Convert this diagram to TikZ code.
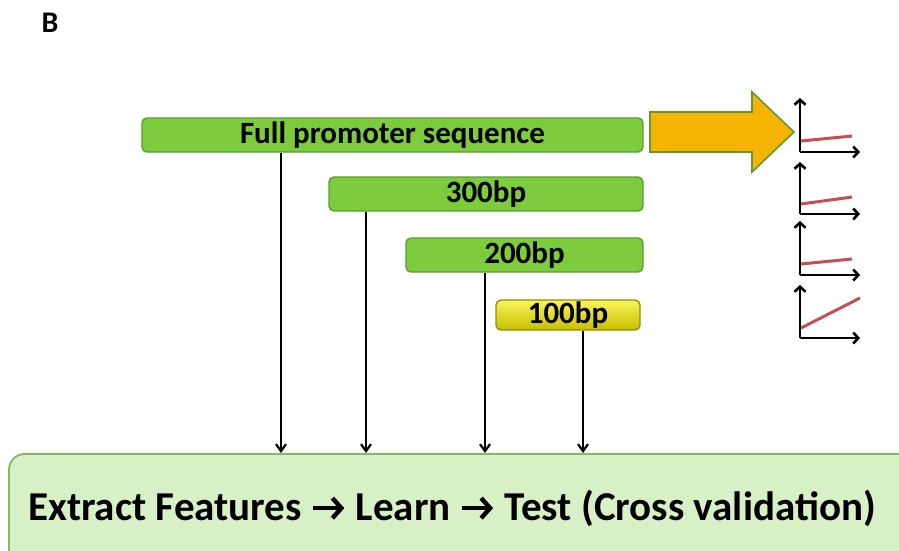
\documentclass[tikz,border=0pt]{standalone}
\usepackage{fontspec}
\setmainfont{Carlito}
\usetikzlibrary{arrows.meta,positioning}
\definecolor{barfill}{RGB}{125,204,62}
\definecolor{barline}{RGB}{92,156,46}
\definecolor{boxfill}{RGB}{216,240,198}
\definecolor{boxline}{RGB}{128,188,88}
\definecolor{bigarrow}{RGB}{246,180,0}
\definecolor{curve}{RGB}{196,80,80}
\newcommand{\stepto}{\tikz[baseline={(0,-12pt)}] \draw[line width=4.4pt, -{Straight Barb[length=9pt,width=20pt]}] (0,0) -- (31pt,0);}
\tikzset
{
    bar/.style     = {rectangle, rounded corners=5pt, draw=barline, fill=barfill, line width=1.4pt, minimum height=34pt, font=\fontsize{31}{33}\selectfont\bfseries, inner sep=0pt},
    shortbar/.style = {rectangle, rounded corners=5pt, draw={rgb,255:red,150;green,140;blue,0}, top color={rgb,255:red,250;green,246;blue,90}, bottom color={rgb,255:red,200;green,190;blue,0}, line width=1.4pt, minimum height=30pt, minimum width=144pt, font=\fontsize{31}{33}\selectfont\bfseries, inner sep=0pt},
    flow/.style    = {-{Straight Barb[length=7pt,width=10pt]}, line width=2.2pt},
    axis/.style    = {-{Straight Barb[length=5pt,width=11pt]}, line width=2.6pt},
    trend/.style   = {curve, line width=3pt}
}

\begin{document}
\begin{tikzpicture}[x=1pt, y=-1pt]
	\useasboundingbox (0,0) rectangle (899,550);
	\node[font=\fontsize{30}{32}\selectfont\bfseries] (label) at (50,23) {B};
	% sequence windows
	\node[bar, minimum width=501pt] (full) at (392.5,135) {Full promoter sequence};
	\node[bar, minimum width=314pt] (bp300) at (486,194) {300bp};
	\node[bar, minimum width=237pt] (bp200) at (524.5,255) {200bp};
	\node[shortbar] (bp100) at (568,315) {100bp};
	% pipeline box
	\node[rectangle, rounded corners=16pt, draw=boxline, fill=boxfill, line width=1.8pt, minimum width=930pt, minimum height=140pt, anchor=north west, inner sep=0pt] (box) at (8,453) {};
	\node[font=\fontsize{41}{44}\selectfont\bfseries] (steps) at (452,508) {Extract Features \stepto{} Learn \stepto{} Test (Cross validation)};
	% connectors
	\draw[flow] (full.south -| 281,0) -- (box.north -| 281,0);
	\draw[flow] (bp300.south -| 366,0) -- (box.north -| 366,0);
	\draw[flow] (bp200.south -| 485,0) -- (box.north -| 485,0);
	\draw[flow] (bp100.south -| 583,0) -- (box.north -| 583,0);
	% big arrow
	\draw[draw=barline, fill=bigarrow, line width=1.6pt] (650,112) -- (752,112) -- (752,92) -- (794,132) -- (752,172) -- (752,152) -- (650,152) -- cycle;
	% small plots
	\foreach \t/\b/\ya/\yb/\xe in {98/152/141/136/852, 162/214/204/197/852, 221/275/264/259/852, 285/338/328/298/860}
	{
		\draw[trend] (801,\ya) -- (\xe,\yb);
		\draw[axis] (800,\b) -- (800,\t);
		\draw[axis] (800,\b) -- (860,\b);
	}
\end{tikzpicture}
\end{document}
